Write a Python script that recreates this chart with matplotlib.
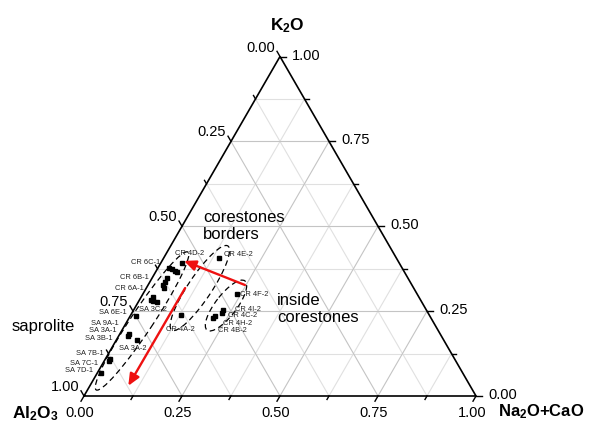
import numpy as np
import matplotlib.pyplot as plt
from matplotlib.patches import Ellipse

plt.rcParams['font.family'] = ['Liberation Sans', 'DejaVu Sans']
plt.rcParams['mathtext.fontset'] = 'custom'
plt.rcParams['mathtext.rm'] = 'Liberation Sans'
plt.rcParams['mathtext.bf'] = 'Liberation Sans:bold'

# ==============================
# DATA  (fractions: Na2O+CaO, K2O ; Al2O3 = 1 - both)
# ==============================
sap_na = [0.015, 0.022, 0.023, 0.053, 0.013, 0.012, 0.009]
sap_k = [0.236, 0.184, 0.177, 0.165, 0.108, 0.102, 0.067]

border_na = [0.053, 0.141, 0.030, 0.038, 0.047, 0.056, 0.037, 0.038,
             0.038, 0.045, 0.030, 0.029, 0.036, 0.046, 0.127]
border_k = [0.393, 0.4065, 0.376, 0.373, 0.369, 0.364, 0.349, 0.337,
            0.327, 0.317, 0.292, 0.284, 0.280, 0.278, 0.240]

inside_na = [0.241, 0.229, 0.229, 0.216, 0.214]
inside_k = [0.299, 0.252, 0.245, 0.237, 0.231]

# sample labels: text, Na anchor, K anchor
labels_right = [("CR 6C-1", -0.002, 0.392), ("CR 6B-1", -0.008, 0.348),
                ("CR 6A-1", -0.006, 0.318), ("SA 6E-1", -0.014, 0.247),
                ("SA 9A-1", -0.018, 0.215), ("SA 3A-1", -0.014, 0.192),
                ("SA 3B-1", -0.010, 0.168), ("SA 7B-1", -0.011, 0.124),
                ("SA 7C-1", -0.013, 0.097), ("SA 7D-1", -0.014, 0.074)]
labels_left = [("CR 4D-2", 0.022, 0.421), ("CR 4E-2", 0.148, 0.418),
               ("SA 3C-2", 0.012, 0.256), ("CR 4A-2", 0.111, 0.197),
               ("SA 3A-2", 0.019, 0.141), ("CR 4F-2", 0.248, 0.300),
               ("CR 4I-2", 0.257, 0.256), ("CR 4C-2", 0.250, 0.236),
               ("CR 4H-2", 0.247, 0.215), ("CR 4B-2", 0.246, 0.192)]

# envelopes: (Na, K) of both ends, width
envelopes = [((0.022, 0.018), (0.053, 0.424), 0.056),
             ((0.146, 0.442), (0.127, 0.194), 0.060),
             ((0.241, 0.339), (0.217, 0.194), 0.054)]

# trend arrows: start (Na, K) -> end (Na, K)
arrows = [((0.247, 0.327), (0.056, 0.398)),
          ((0.099, 0.318), (0.098, 0.030))]

major = [0.0, 0.25, 0.5, 0.75, 1.0]
minor = [0.125, 0.375, 0.625, 0.875]
tick_text = ["0.00", "0.25", "0.50", "0.75", "1.00"]

H = np.sqrt(3) / 2


def xy(na, k):
    na = np.asarray(na, dtype=float)
    k = np.asarray(k, dtype=float)
    return na + k / 2, k * H


# ==============================
# FIGURE
# ==============================
S = 392.0          # px per unit side
X0, Y0 = 84.0, 28.0
fig = plt.figure(figsize=(5.89, 4.24), dpi=100)
ax = fig.add_axes([0, 0, 1, 1])
ax.set_xlim(-X0 / S, (589 - X0) / S)
ax.set_ylim(-Y0 / S, (424 - Y0) / S)
ax.axis('off')
PT = 0.72  # points per px

# grid
for v in minor + major[1:-1]:
    col = '#c4c4c4' if v in major else '#e0e0e0'
    for a, b in [((0, v), (1 - v, v)), ((v, 0), (v, 1 - v)), ((1 - v, 0), (0, 1 - v))]:
        x, y = xy([a[0], b[0]], [a[1], b[1]])
        ax.plot(x, y, color=col, lw=0.8, zorder=1)

# frame
x, y = xy([0, 1, 0, 0], [0, 0, 1, 0])
ax.plot(x, y, color='black', lw=1.2, zorder=3, solid_joinstyle='miter')

# ticks
for v in major + minor:
    L = (6 if v in major else 4) / S
    for (na, k), d in [((v, 0), (-0.5, -H)), ((1 - v, v), (1, 0)), ((0, 1 - v), (-0.5, H))]:
        px, py = xy(na, k)
        ax.plot([px, px + L * d[0]], [py, py + L * d[1]], color='black', lw=1.0, zorder=3)

for v, t in zip(major, tick_text):
    ax.annotate(t, xy(v, 0), xytext=(-4 * PT, -17 * PT), textcoords='offset points',
                ha='center', va='center', fontsize=10.5)
    ax.annotate(t, xy(1 - v, v), xytext=(12 * PT, 1 * PT), textcoords='offset points',
                ha='left', va='center', fontsize=10.5)
    ax.annotate(t, xy(0, 1 - v), xytext=(-5 * PT, 9 * PT), textcoords='offset points',
                ha='right', va='center', fontsize=10.5)

# envelopes
for (a, b, w) in envelopes:
    xa, ya = xy(*a)
    xb, yb = xy(*b)
    length = np.hypot(xb - xa, yb - ya)
    ang = np.degrees(np.arctan2(yb - ya, xb - xa))
    ax.add_patch(Ellipse(((xa + xb) / 2, (ya + yb) / 2), length, w, angle=ang,
                         fill=False, ec='black', lw=0.9, ls=(0, (4.5, 3)), zorder=2))

# points
for na, k in [(sap_na, sap_k), (border_na, border_k), (inside_na, inside_k)]:
    x, y = xy(na, k)
    ax.plot(x, y, 's', color='black', ms=3.2, mec='black', zorder=4)

for t, na, k in labels_right:
    ax.text(*xy(na, k), t, ha='right', va='center', fontsize=5.4, color='#222222', zorder=5)
for t, na, k in labels_left:
    ax.text(*xy(na, k), t, ha='left', va='center', fontsize=5.4, color='#222222', zorder=5)

# arrows
for s, e in arrows:
    ax.annotate('', xy=xy(*e), xytext=xy(*s),
                arrowprops=dict(arrowstyle='-|>,head_length=0.5,head_width=0.22',
                                color='#ee1111', lw=1.7,
                                mutation_scale=14, shrinkA=0, shrinkB=0), zorder=6)

# titles and notes
fig.text(287 / 589, 1 - 30 / 424, r'$\mathbf{K_2O}$', ha='center', va='baseline', fontsize=12.5)
fig.text(35 / 589, 1 - 418 / 424, r'$\mathbf{Al_2O_3}$', ha='center', va='baseline', fontsize=12.5)
fig.text(541 / 589, 1 - 416 / 424, r'$\mathbf{Na_2O{+}CaO}$', ha='center', va='baseline', fontsize=12)

fig.text(43 / 589, 1 - 327 / 424, 'saprolite', ha='center', va='center', fontsize=12)
fig.text(203 / 589, 1 - 226 / 424, 'corestones\nborders', ha='left', va='center',
         fontsize=12, linespacing=1.2)
fig.text(277 / 589, 1 - 309 / 424, 'inside\ncorestones', ha='left', va='center',
         fontsize=12, linespacing=1.2)

fig.savefig('out.png', dpi=100)
